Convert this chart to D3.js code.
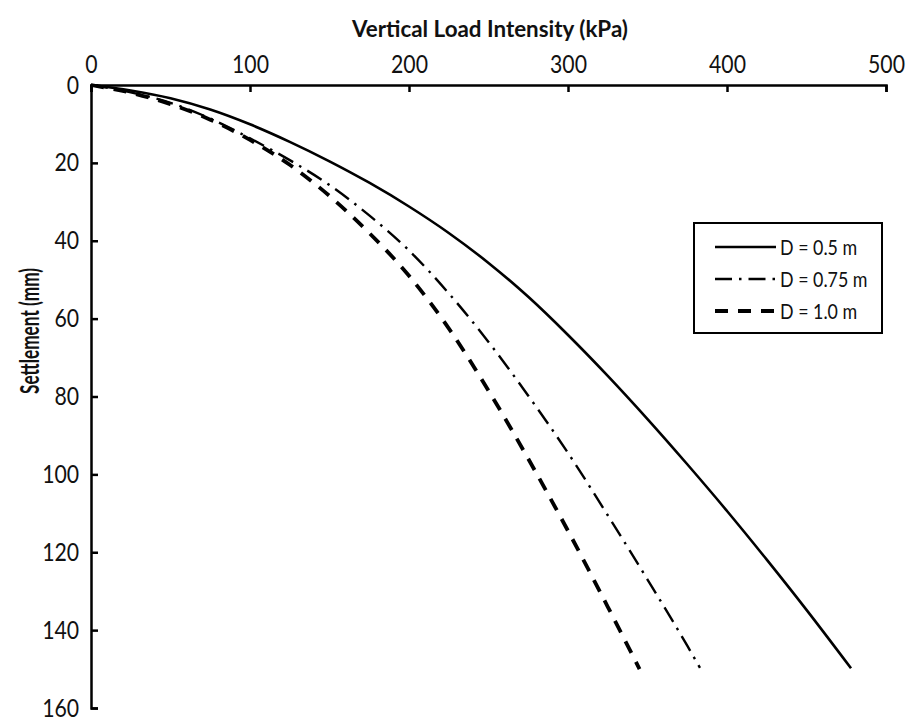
<!DOCTYPE html>
<html><head><meta charset="utf-8">
<script src="https://cdn.jsdelivr.net/npm/d3@7"></script>
<style>body{margin:0;background:#fff}svg{display:block}</style>
</head><body>
<svg id="chart" width="907" height="721"></svg>
<script>
// ---- data ----
const xTickValues = [0, 100, 200, 300, 400, 500];
const yTickValues = [0, 20, 40, 60, 80, 100, 120, 140, 160];
const seriesNames = ["D = 0.5 m", "D = 0.75 m", "D = 1.0 m"];
const loadD050 = [0, 25, 50, 75, 100, 125, 150, 175, 200, 225, 250, 275, 300, 325, 350, 375, 400, 425, 450, 478];
const settD050 = [0, 1.4, 3.4, 6.3, 10.1, 14.6, 19.6, 25.1, 31.2, 38.0, 45.7, 54.4, 64.2, 74.7, 85.8, 97.4, 109.4, 121.9, 134.8, 149.8];
const loadD075 = [0, 25, 50, 75, 100, 125, 150, 175, 200, 225, 250, 275, 300, 325, 350, 375, 383];
const settD075 = [0, 1.9, 4.6, 8.6, 13.7, 19.3, 25.7, 33.5, 42.5, 53.5, 66.0, 79.8, 94.5, 110.5, 127.0, 144.0, 149.7];
const loadD100 = [0, 25, 50, 75, 100, 125, 150, 175, 200, 225, 250, 275, 300, 325, 345];
const settD100 = [0, 2.0, 4.9, 8.9, 14.1, 20.5, 28.5, 38.0, 49.0, 62.5, 78.5, 96.0, 114.5, 134.0, 150];

const FONT = "Lato, 'Open Sans', 'Noto Sans', sans-serif";
const SX = 0.85;

const svg = d3.select("#chart");
svg.append("rect").attr("width", 907).attr("height", 721).attr("fill", "#fff");

const x = d3.scaleLinear().domain([0, 500]).range([91, 886]);
const y = d3.scaleLinear().domain([0, 160]).range([85, 708]);

// top axis
const gx = svg.append("g").attr("transform", `translate(0,${y(0)})`)
  .call(d3.axisTop(x).tickValues(xTickValues).tickSizeInner(-7).tickSizeOuter(-7).tickPadding(12));
gx.select(".domain").attr("stroke", "#000").attr("stroke-width", 2.5);
gx.selectAll(".tick line").attr("stroke", "#000").attr("stroke-width", 2.5);
gx.selectAll(".tick text").attr("font-family", FONT).attr("font-size", 25).attr("fill", "#111")
  .attr("transform", `scale(${SX},1)`);

// left axis
const gy = svg.append("g").attr("transform", `translate(${x(0)},0)`)
  .call(d3.axisLeft(y).tickValues(yTickValues).tickSizeInner(-7).tickSizeOuter(-7).tickPadding(14));
gy.select(".domain").attr("stroke", "#000").attr("stroke-width", 2.5);
gy.selectAll(".tick line").attr("stroke", "#000").attr("stroke-width", 2.5);
gy.selectAll(".tick text").attr("font-family", FONT).attr("font-size", 25).attr("fill", "#111")
  .attr("transform", `scale(${SX},1)`);

// axis titles
svg.append("text").attr("x", 490).attr("y", 37)
  .attr("text-anchor", "middle").attr("font-family", FONT).attr("font-weight", "bold")
  .attr("font-size", 22).attr("fill", "#111")
  .attr("textLength", 276).attr("lengthAdjust", "spacingAndGlyphs")
  .text("Vertical Load Intensity (kPa)");
svg.append("text").attr("transform", `translate(39,331) rotate(-90)`)
  .attr("text-anchor", "middle").attr("font-family", FONT).attr("font-weight", "bold")
  .attr("font-size", 26).attr("fill", "#111")
  .attr("textLength", 126).attr("lengthAdjust", "spacingAndGlyphs")
  .text("Settlement (mm)");

// series
const series = [
  {name: seriesNames[0], load: loadD050, sett: settD050, dash: null, w: 2.6},
  {name: seriesNames[1], load: loadD075, sett: settD075, dash: "17,7,2.5,7", w: 2.4},
  {name: seriesNames[2], load: loadD100, sett: settD100, dash: "13,10", w: 3.8}
];
const line = d3.line().x(d => x(d[0])).y(d => y(d[1])).curve(d3.curveMonotoneX);
series.forEach(s => {
  const pts = s.load.map((v, i) => [v, s.sett[i]]);
  svg.append("path").datum(pts).attr("d", line).attr("fill", "none")
    .attr("stroke", "#000").attr("stroke-width", s.w)
    .attr("stroke-dasharray", s.dash);
});

// legend
const lg = svg.append("g");
lg.append("rect").attr("x", 694).attr("y", 223).attr("width", 188).attr("height", 110)
  .attr("fill", "#fff").attr("stroke", "#000").attr("stroke-width", 2);
const rowY = [247, 279, 311];
series.forEach((s, i) => {
  lg.append("line").attr("x1", 715).attr("x2", 776).attr("y1", rowY[i]).attr("y2", rowY[i])
    .attr("stroke", "#000").attr("stroke-width", s.w).attr("stroke-dasharray", s.dash);
  lg.append("text").attr("transform", `translate(780,${rowY[i]}) scale(${SX},1)`)
    .attr("dy", "0.36em").attr("font-family", FONT).attr("font-size", 21).attr("fill", "#111")
    .text(s.name);
});
</script>
</body></html>
